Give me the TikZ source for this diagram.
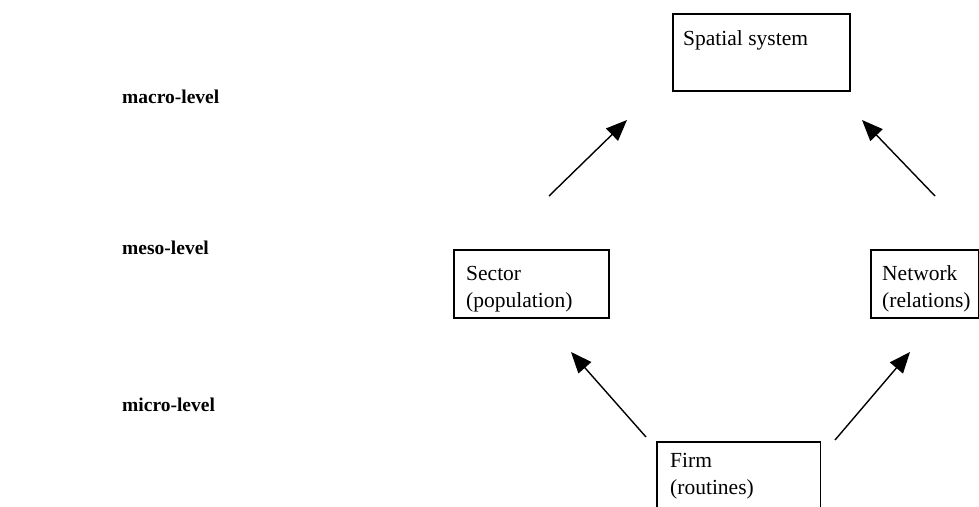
\documentclass[tikz,border=0pt]{standalone}
\usepackage{fontspec}
\setmainfont{Liberation Serif}
\usetikzlibrary{arrows.meta}
\begin{document}
\begin{tikzpicture}[x=1pt,y=1pt,
  boxnode/.style={draw, line width=1.6pt, minimum width=#1, anchor=north west, inner sep=0pt},
  txt/.style={font=\fontsize{21.5}{27.5}\selectfont, align=left, anchor=west, inner sep=0pt},
  lvl/.style={font=\fontsize{19.5}{23}\selectfont\bfseries, anchor=west, inner sep=0pt},
  arr/.style={line width=1.4pt, -{Triangle[length=21pt,width=17pt]}}]
\useasboundingbox (0,0) rectangle (979,-506);
\clip (0,0) rectangle (979,-506);
% levels
\node[lvl] (macro) at (122,-97) {macro-level};
\node[lvl] (meso) at (122,-248) {meso-level};
\node[lvl] (micro) at (122,-405) {micro-level};
% boxes
\node[boxnode=177pt, minimum height=77pt] (sp) at (672,-13) {};
\node[txt] (spt) at (683,-40) {Spatial system};
\node[boxnode=155pt, minimum height=68pt] (sec) at (453,-249) {};
\node[txt] (sect) at (466,-289) {Sector\\(population)};
\node[boxnode=108pt, minimum height=68pt] (net) at (870,-249) {};
\node[txt] (nett) at (882,-289) {Network\\(relations)};
\node[minimum width=163pt, minimum height=90pt, anchor=north west, inner sep=0pt] (firm) at (657,-442) {};
\draw[line width=1.6pt] (firm.south west) |- (firm.north east) -- (firm.south east);
\node[txt] (firmt) at (670,-476) {Firm\\(routines)};
% arrow ends
\coordinate (a1s) at (549,-196); \coordinate (a1e) at (627,-120);
\coordinate (a2s) at (935,-196); \coordinate (a2e) at (862,-120);
\coordinate (a3s) at (646,-437); \coordinate (a3e) at (571,-352);
\coordinate (a4s) at (835,-440); \coordinate (a4e) at (910,-352);
\draw[arr] (a1s) -- (a1e);
\draw[arr] (a2s) -- (a2e);
\draw[arr] (a3s) -- (a3e);
\draw[arr] (a4s) -- (a4e);
\end{tikzpicture}
\end{document}
